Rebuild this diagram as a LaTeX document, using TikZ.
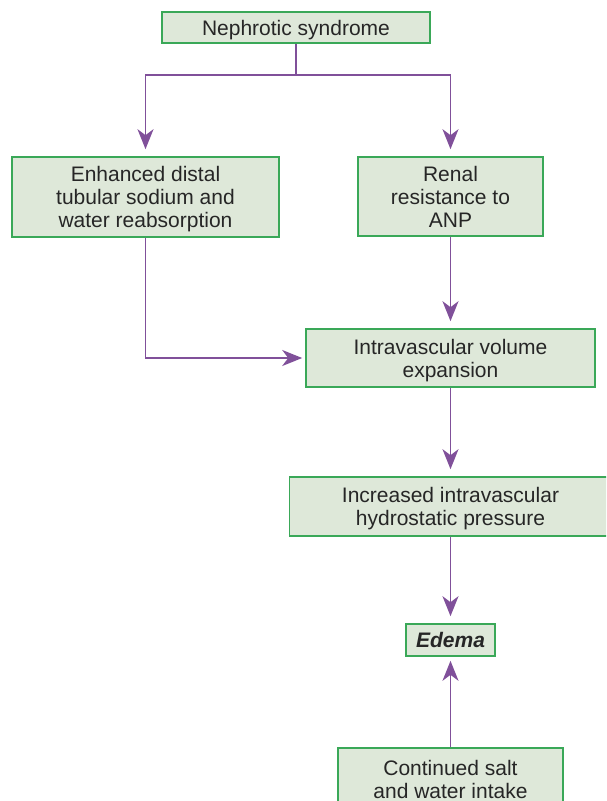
\documentclass[tikz,border=0pt]{standalone}
\usepackage{fontspec}
\setmainfont{Liberation Sans}
\usetikzlibrary{positioning,arrows.meta,calc}
\definecolor{boxfill}{RGB}{222,232,217}
\definecolor{boxline}{RGB}{58,168,88}
\definecolor{flowcol}{RGB}{128,80,154}

\begin{document}
\begin{tikzpicture}[x=1pt,y=-1pt,
        stepnode/.style={draw=boxline, fill=boxfill, line width=1.6pt, align=center, inner sep=0pt, text depth=0pt, text=black!85, font=\fontsize{21}{23}\selectfont},
        flow/.style={draw=flowcol, line width=1.8pt, -{Stealth[length=20pt,width=16pt,inset=6pt]}, shorten >=7pt}]
        \useasboundingbox (0,0) rectangle (606,801);
        \clip (0,0) rectangle (606,801);
        % boxes
        \node[stepnode, minimum width=268pt, minimum height=31pt] (nephrotic) at (296,27.5) {Nephrotic syndrome};
        \node[stepnode, minimum width=267pt, minimum height=80pt] (distal) at (145.5,197) {Enhanced distal\\tubular sodium and\\water reabsorption};
        \node[stepnode, minimum width=185pt, minimum height=79pt] (anp) at (450.5,196.5) {Renal\\resistance to\\ANP};
        \node[stepnode, minimum width=289pt, minimum height=58pt] (volume) at (450.5,358) {Intravascular volume\\expansion};
        \node[stepnode, minimum width=322pt, minimum height=59pt] (hydro) at (450.5,506.5) {Increased intravascular\\hydrostatic pressure};
        \node[stepnode, minimum width=89pt, minimum height=32pt, font=\fontsize{21}{23}\selectfont\bfseries\itshape] (edema) at (450.5,640) {Edema};
        \node[stepnode, minimum width=225pt, minimum height=62pt] (intake) at (450.5,779) {Continued salt\\and water intake};
        % connectors
        \coordinate (split) at (296,75);
        \draw[flowcol, line width=1.8pt] (nephrotic.south) -- (split);
        \draw[flow] (split) -| (distal.north);
        \draw[flow] (split) -| (anp.north);
        \draw[flow, shorten >=3pt] (distal.south) |- (volume.west);
        \draw[flow] (anp.south) -- (volume.north);
        \draw[flow] (volume.south) -- (hydro.north);
        \draw[flow] (hydro.south) -- (edema.north);
        \draw[flow, shorten >=4pt] (intake.north) -- (edema.south);
\end{tikzpicture}
\end{document}
